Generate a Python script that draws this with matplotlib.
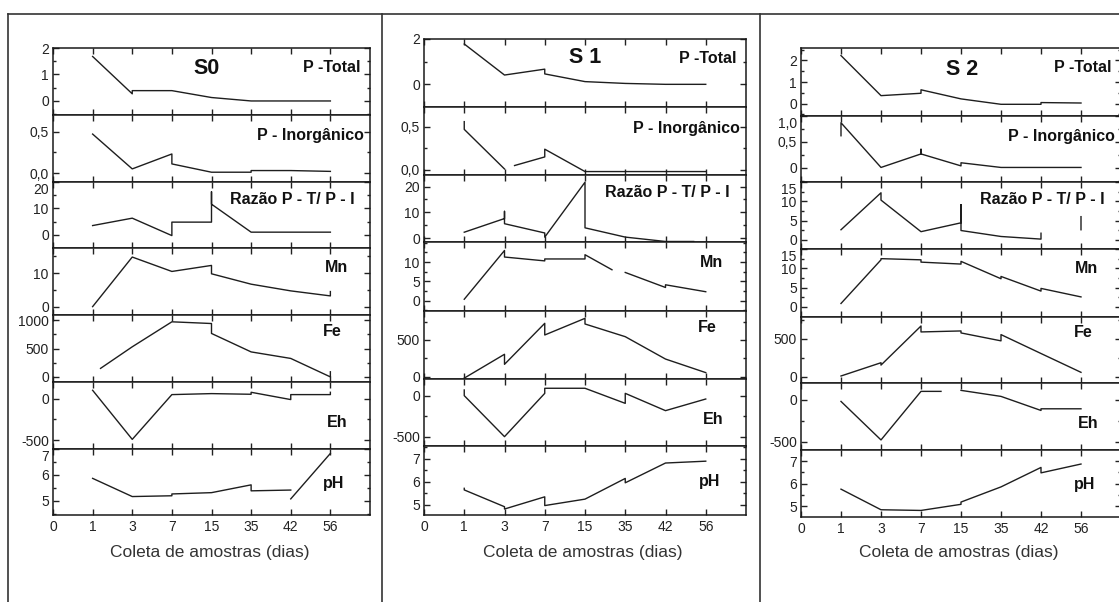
import matplotlib
matplotlib.use("Agg")
import matplotlib.pyplot as plt
import matplotlib.transforms as mtransforms
import numpy as np
from matplotlib.lines import Line2D

plt.rcParams['font.family'] = ['Liberation Sans', 'DejaVu Sans']

nan = np.nan

# x positions are the sample index (0..7), labelled by sampling day
XTICK_LABELS = ["0", "1", "3", "7", "15", "35", "42", "56"]
STATIONS = ["S0", "S 1", "S 2"]
VARIABLES = ["P -Total", "P - Inorgânico", "Razão P - T/ P - I", "Mn", "Fe", "Eh", "pH"]

# ── S0 ────────────────────────────────────────────────────────────────────────
s0_ptotal_x = [1, 2, 2, 3, 4, 5, 6, 7]
s0_ptotal_y = [1.68, 0.27, 0.39, 0.39, 0.13, 0.0, 0.0, 0.0]
s0_pinorg_x = [1, 2, 3, 3, 4, 5, 5, 6, 7]
s0_pinorg_y = [0.47, 0.05, 0.23, 0.11, 0.01, 0.01, 0.03, 0.03, 0.02]
s0_razao_x = [1, 2, 3, 3, 4, 4, 4, 5, 6, 7]
s0_razao_y = [3.5, 6.3, -0.3, 4.8, 4.8, 16.3, 11.6, 1.0, 1.0, 1.0]
s0_mn_x = [1, 2, 3, 4, 4, 5, 6, 7, 7]
s0_mn_y = [0.0, 14.8, 10.5, 12.3, 9.8, 6.7, 4.7, 3.2, 4.5]
s0_fe_x = [1.2, 2, 3, 4, 4, 5, 6, 7, 7]
s0_fe_y = [150, 530, 970, 940, 765, 440, 325, 0, 90]
s0_eh_x = [1, 2, 3, 4, 5, 5, 6, 6, 7, 7]
s0_eh_y = [100, -492, 48, 60, 52, 76, -12, 48, 48, 76]
s0_ph_x = [1, 2, 3, 3, 4, 5, 5, 6, 6, 6, 7]
s0_ph_y = [5.87, 5.17, 5.2, 5.27, 5.32, 5.62, 5.39, 5.42, nan, 5.08, 6.83]

# ── S1 ────────────────────────────────────────────────────────────────────────
s1_ptotal_x = [1, 2, 3, 3, 4, 5, 6, 7]
s1_ptotal_y = [1.78, 0.41, 0.67, 0.46, 0.12, 0.04, 0.0, 0.0]
s1_pinorg_x = [1, 1, 2, 2, 2.25, 3, 3, 4, 5, 6, 7]
s1_pinorg_y = [0.56, 0.47, 0.01, nan, 0.05, 0.15, 0.24, -0.02, -0.02, -0.02, -0.02]
s1_razao_x = [1, 2, 2, 2, 3, 3, 4, 4, 5, 6, 6.7]
s1_razao_y = [2.3, 7.6, 10.4, 5.6, 2.0, 0.4, 21.7, 4.0, 0.4, -1.3, -1.3]
s1_mn_x = [1, 2, 2, 3, 3, 4, 4, 4.67, 4.67, 5, 6, 6, 7]
s1_mn_y = [0.35, 13.0, 11.3, 10.3, 10.8, 10.8, 11.9, 8.0, nan, 7.3, 3.4, 4.1, 2.3]
s1_fe_x = [1, 2, 2, 3, 3, 4, 4, 5, 6, 7]
s1_fe_y = [-20, 305, 168, 727, 568, 795, 718, 545, 240, 55]
s1_eh_x = [1, 1, 2, 3, 3, 4, 5, 5, 6, 7]
s1_eh_y = [69, 0, -500, 28, 90, 90, -94, 28, -183, -41]
s1_ph_x = [1, 1, 2, 2, 3, 3, 4, 5, 5, 6, 7]
s1_ph_y = [5.72, 5.65, 4.92, 4.82, 5.35, 4.97, 5.25, 6.15, 5.96, 6.82, 6.9]

# ── S2 ────────────────────────────────────────────────────────────────────────
s2_ptotal_x = [1, 2, 3, 3, 4, 5, 6, 6, 7]
s2_ptotal_y = [2.22, 0.37, 0.48, 0.64, 0.22, -0.03, -0.03, 0.05, 0.03]
s2_pinorg_x = [1, 1, 2, 3, 3, 3, 4, 4, 5, 6, 7]
s2_pinorg_y = [0.62, 0.87, 0.01, 0.27, 0.36, 0.27, 0.04, 0.1, 0.01, 0.01, 0.01]
s2_razao_x = [1, 2, 2, 3, 4, 4, 4, 5, 6, 6, 6.5, 7, 7]
s2_razao_y = [2.6, 12.2, 10.3, 2.1, 4.4, 9.1, 2.4, 0.85, 0.17, 1.7, nan, 6.0, 2.6]
s2_mn_x = [1, 2, 2, 3, 3, 4, 4, 5, 5, 6, 6, 7]
s2_mn_y = [0.9, 12.2, 12.5, 12.2, 11.6, 11.1, 11.8, 7.3, 7.9, 4.1, 4.8, 2.6]
s2_fe_x = [1, 2, 2, 3, 3, 4, 4, 5, 5, 6, 7]
s2_fe_y = [9, 183, 152, 665, 587, 600, 574, 470, 552, 304, 57]
s2_eh_x = [1, 2, 3, 3.5, 3.5, 4, 5, 6, 6, 7]
s2_eh_y = [-20, -480, 100, 100, nan, 112, 40, -128, -108, -108]
s2_ph_x = [1, 2, 3, 4, 4, 5, 6, 6, 7]
s2_ph_y = [5.76, 4.85, 4.82, 5.09, 5.19, 5.86, 6.72, 6.48, 6.87]

SERIES = [
    [(s0_ptotal_x, s0_ptotal_y), (s0_pinorg_x, s0_pinorg_y), (s0_razao_x, s0_razao_y),
     (s0_mn_x, s0_mn_y), (s0_fe_x, s0_fe_y), (s0_eh_x, s0_eh_y), (s0_ph_x, s0_ph_y)],
    [(s1_ptotal_x, s1_ptotal_y), (s1_pinorg_x, s1_pinorg_y), (s1_razao_x, s1_razao_y),
     (s1_mn_x, s1_mn_y), (s1_fe_x, s1_fe_y), (s1_eh_x, s1_eh_y), (s1_ph_x, s1_ph_y)],
    [(s2_ptotal_x, s2_ptotal_y), (s2_pinorg_x, s2_pinorg_y), (s2_razao_x, s2_razao_y),
     (s2_mn_x, s2_mn_y), (s2_fe_x, s2_fe_y), (s2_eh_x, s2_eh_y), (s2_ph_x, s2_ph_y)],
]

# y-axis setup per station/variable: (ylim, major ticks, tick labels, minor step)
YAXES = [
    [((-0.53, 2.0), [0, 1, 2], ["0", "1", "2"], 0.5),
     ((-0.108, 0.70), [0, 0.5], ["0,0", "0,5"], 0.25),
     ((-5, 20), [0, 10, 20], ["0", "10", "20"], 5),
     ((-2.5, 17.5), [0, 10], ["0", "10"], 5),
     ((-90, 1090), [0, 500, 1000], ["0", "500", "1000"], 250),
     ((-608, 200), [-500, 0], ["-500", "0"], 250),
     ((4.46, 7.0), [5, 6, 7], ["5", "6", "7"], 0.5)],
    [((-1.0, 2.0), [0, 2], ["0", "2"], 1),
     ((-0.06, 0.73), [0, 0.5], ["0,0", "0,5"], 0.25),
     ((-1.5, 24.5), [0, 10, 20], ["0", "10", "20"], 5),
     ((-2.7, 15.2), [0, 5, 10], ["0", "5", "10"], 2.5),
     ((-32, 895), [0, 500], ["0", "500"], 250),
     ((-614, 203), [-500, 0], ["-500", "0"], 250),
     ((4.56, 7.56), [5, 6, 7], ["5", "6", "7"], 0.5)],
    [((-0.57, 2.57), [0, 1, 2], ["0", "1", "2"], 0.5),
     ((-0.27, 1.0), [0, 0.5, 1.0], ["0", "0,5", "1,0"], 0.25),
     ((-2.4, 15), [0, 5, 10, 15], ["0", "5", "10", "15"], 2.5),
     ((-2.6, 15), [0, 5, 10, 15], ["0", "5", "10", "15"], 2.5),
     ((-83, 783), [0, 500], ["0", "500"], 250),
     ((-600, 200), [-500, 0], ["-500", "0"], 250),
     ((4.53, 7.49), [5, 6, 7], ["5", "6", "7"], 0.5)],
]

# ── layout (pixels of the 1119x602 figure) ────────────────────────────────────
W, H = 1119, 602
PANEL_LEFT = [53, 424, 801]
PANEL_WIDTH = [317, 322, 320]
ROW_EDGES = [
    [48, 115, 182, 248, 315, 382, 449, 515],
    [39, 107, 175, 242, 311, 379, 446, 515],
    [48, 116, 182, 249, 317, 383, 450, 517],
]
LABEL_POS = [(0.97, 0.71), (0.98, 0.69), (0.95, 0.74), (0.93, 0.71),
             (0.91, 0.76), (0.93, 0.40), (0.92, 0.48)]
TITLE_POS = [(0.486, 0.69), (0.50, 0.735), (0.503, 0.69)]

LINE_COLOR = "#1e1e1e"
TEXT_COLOR = "#222222"

fig = plt.figure(figsize=(W / 100, H / 100), dpi=100)
shift_down = mtransforms.ScaledTranslation(0, -5 / 72, fig.dpi_scale_trans)

for s, station in enumerate(STATIONS):
    edges = ROW_EDGES[s]
    for r, var in enumerate(VARIABLES):
        top, bot = edges[r], edges[r + 1]
        ax = fig.add_axes([PANEL_LEFT[s] / W, 1 - bot / H,
                           PANEL_WIDTH[s] / W, (bot - top) / H])
        x, y = SERIES[s][r]
        ax.plot(x, y, color=LINE_COLOR, lw=1.0)

        ylim, ticks, labels, minor = YAXES[s][r]
        ax.set_xlim(0, 8)
        ax.set_yticks(ticks, labels)
        ax.set_yticks(np.arange(ticks[0] - minor * 4, ticks[-1] + minor * 4 + 1e-9, minor),
                      minor=True)
        ax.set_ylim(*ylim)
        ax.set_xticks(range(8))
        if r == len(VARIABLES) - 1:
            ax.set_xticklabels(XTICK_LABELS)
        else:
            ax.set_xticklabels([])

        ax.tick_params(which="both", direction="in", top=True, right=True,
                       labelsize=10, colors=TEXT_COLOR, width=1.0)
        ax.tick_params(which="major", length=4)
        ax.tick_params(which="minor", length=2.5)
        ax.tick_params(axis="y", pad=3)
        for sp in ax.spines.values():
            sp.set_linewidth(1.1)
            sp.set_color("#1a1a1a")

        # labels sitting on a shared top edge are pushed inside, as in the original
        span_px = (bot - top) * (ylim[1] - ticks[-1]) / (ylim[1] - ylim[0])
        if r > 0 and span_px < 4:
            lab = ax.get_yticklabels()[-1]
            lab.set_transform(lab.get_transform() + shift_down)

        lx, ly = LABEL_POS[r]
        ax.text(lx, ly, var, transform=ax.transAxes, ha="right", va="center",
                fontsize=11.5, fontweight="bold", color="#111111")
        if r == 0:
            tx, ty = TITLE_POS[s]
            ax.text(tx, ty, station, transform=ax.transAxes, ha="center",
                    va="center", fontsize=15.5, fontweight="bold", color="#111111")

    # x-axis title under each panel
    cx = (PANEL_LEFT[s] + PANEL_WIDTH[s] / 2 - 2) / W
    fig.text(cx, 1 - 552 / H, "Coleta de amostras (dias)", ha="center", va="center",
             fontsize=12.5, color="#333333")

# outer frame of the scanned figure
frame_kw = dict(color="#333333", lw=1.2, transform=fig.transFigure)
fig.add_artist(Line2D([8 / W, 1], [1 - 14 / H, 1 - 14 / H], **frame_kw))
for xp in [8, 382, 760]:
    fig.add_artist(Line2D([xp / W, xp / W], [0, 1 - 14 / H], **frame_kw))

fig.savefig("out.png", dpi=100)
